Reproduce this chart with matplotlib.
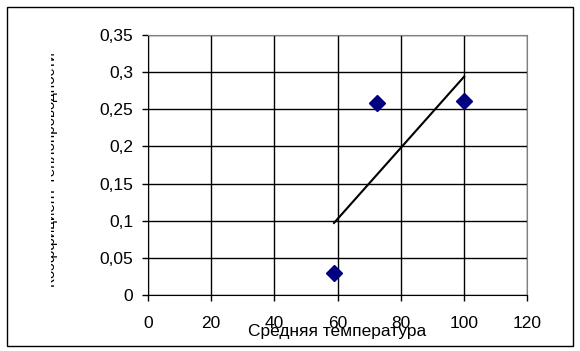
import matplotlib
matplotlib.use('Agg')
import matplotlib.pyplot as plt
from matplotlib.patches import Rectangle
from matplotlib.ticker import FuncFormatter
from matplotlib.transforms import Bbox

plt.rcParams['font.family'] = ['Liberation Sans', 'DejaVu Sans']

# measured points
temp = [59.0, 72.4, 100.2]
coef = [0.030, 0.259, 0.261]

# linear trend line endpoints
trend_x = [58.9, 100.1]
trend_y = [0.097, 0.294]

x_ticks = [0, 20, 40, 60, 80, 100, 120]
y_ticks = [0, 0.05, 0.1, 0.15, 0.2, 0.25, 0.3, 0.35]

fig = plt.figure(figsize=(5.8, 3.51), dpi=100)
fig.patch.set_facecolor('white')
fig.patches.append(Rectangle((7 / 580, 5 / 351), 566 / 580, 339 / 351,
                             transform=fig.transFigure, fill=False,
                             edgecolor='black', linewidth=1.0))

ax = fig.add_axes([148 / 580, 56 / 351, 379 / 580, 260 / 351])
ax.set_xlim(0, 120)
ax.set_ylim(0, 0.35)
ax.set_xticks(x_ticks)
ax.set_yticks(y_ticks)

comma = FuncFormatter(lambda v, p: ('%g' % round(v, 2)).replace('.', ','))
ax.xaxis.set_major_formatter(comma)
ax.yaxis.set_major_formatter(comma)

ax.grid(True, color='black', linewidth=1.0)
ax.set_axisbelow(True)
ax.tick_params(direction='out', width=1.0, labelsize=12.5)
ax.tick_params(axis='x', length=4, pad=11)
ax.tick_params(axis='y', length=4.5, pad=6)
for side in ['top', 'right']:
    ax.spines[side].set_color('#808080')
for side in ['left', 'bottom']:
    ax.spines[side].set_color('black')

ax.plot(trend_x, trend_y, color='black', linewidth=1.5, zorder=3)
ax.plot(temp, coef, linestyle='none', marker='D', markersize=8,
        color='#000080', zorder=4)

ax.text(0.5, -0.14, 'Средняя температура', transform=ax.transAxes,
        ha='center', va='center', fontsize=12.5)

ylab = fig.text(58 / 580, 1 - 170 / 351, 'Коэффициент теплопроводности',
                rotation=90, ha='right', va='center', fontsize=11)
ylab.set_clip_box(Bbox([[51, 0], [58, 351]]))
ylab.set_clip_on(True)

fig.savefig('out.png', dpi=100)
